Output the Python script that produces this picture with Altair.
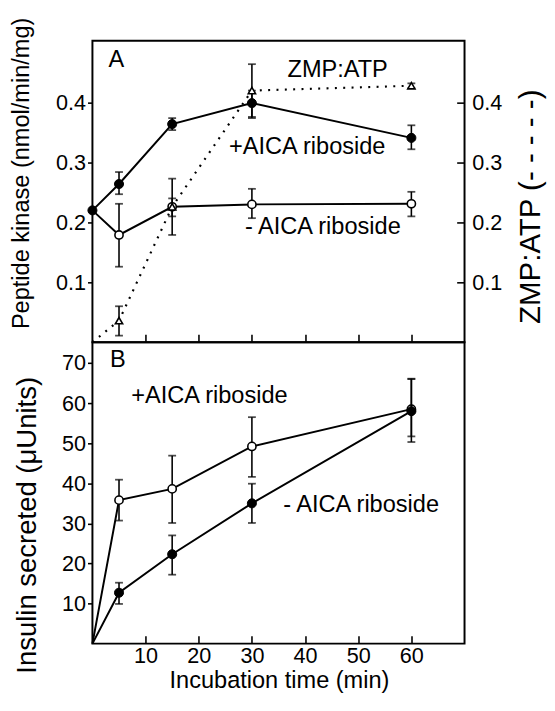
import altair as alt
import pandas as pd

FONT = "Liberation Sans"

# ---------------- Panel A: peptide kinase & ZMP:ATP ----------------
a_time = [0, 5, 15, 30, 60]
a_plus = [0.220, 0.264, 0.364, 0.399, 0.341]
a_plus_lo = [0.220, 0.247, 0.354, 0.374, 0.322]
a_plus_hi = [0.220, 0.284, 0.374, 0.420, 0.362]
a_minus = [0.220, 0.179, 0.226, 0.230, 0.231]
a_minus_lo = [0.220, 0.126, 0.210, 0.207, 0.210]
a_minus_hi = [0.220, 0.231, 0.240, 0.256, 0.251]
zmp_time = [0, 5, 15, 30, 60]
zmp = [0.0, 0.036, 0.226, 0.420, 0.428]
zmp_lo = [0.0, 0.011, 0.179, 0.376, 0.424]
zmp_hi = [0.0, 0.060, 0.273, 0.464, 0.432]

# ---------------- Panel B: insulin secreted ----------------
b_time = [0, 5, 15, 30, 60]
b_plus = [0, 35.8, 38.6, 49.2, 58.5]
b_plus_lo = [0, 30.7, 30.1, 41.6, 50.3]
b_plus_hi = [0, 40.9, 46.9, 56.5, 66.1]
b_minus = [0, 12.7, 22.3, 35.0, 58.0]
b_minus_lo = [0, 9.9, 17.2, 30.1, 51.7]
b_minus_hi = [0, 15.2, 27.0, 39.9, 66.0]

# ---------------- annotations ----------------
a_labels = ["A", "ZMP:ATP", "+AICA riboside", "- AICA riboside"]
a_label_x = [3.0, 36.7, 25.7, 28.7]
a_label_y = [0.459, 0.443, 0.314, 0.180]
b_labels = ["B", "+AICA riboside", "- AICA riboside"]
b_label_x = [3.3, 7.3, 35.9]
b_label_y = [69.1, 60.1, 32.8]

x_ticks = [10, 20, 30, 40, 50, 60]
a_ticks = [0.1, 0.2, 0.3, 0.4]
b_ticks = [10, 20, 30, 40, 50, 60, 70]

W, H = 379, 307
A_DOMAIN = [0, 0.503]
B_DOMAIN = [0, 75.2]


def frame(t, v, lo, hi):
    return pd.DataFrame({"t": t, "v": v, "lo": lo, "hi": hi})


axis_x_top = alt.Axis(values=x_ticks, labels=False, title=None, domain=False,
                      grid=False, tickSize=8, offset=-8)
axis_x_bottom = alt.Axis(values=x_ticks, domain=False, grid=False, tickSize=8,
                         offset=-8, labelBaseline="alphabetic", labelPadding=19.7,
                         title="Incubation time (min)", titleX=190, titleY=52.7,
                         titleBaseline="alphabetic", titleAlign="center")

axis_left_a = alt.Axis(values=a_ticks, format=".1f", domain=False, grid=False,
                       tickSize=5, labelPadding=2, titleX=-65, titleY=134.5,
                       titleAngle=270, titleBaseline="alphabetic", titleAlign="center")
axis_right_a = alt.Axis(orient="right", values=a_ticks, format=".1f", domain=False,
                        grid=False, tickSize=8, offset=-8, labelPadding=7.3,
                        titleX=84.5, titleY=168.5, titleAngle=270, titleFontSize=30,
                        titleBaseline="alphabetic", titleAlign="center")
axis_left_b = alt.Axis(values=b_ticks, domain=False, grid=False, tickSize=5,
                       labelPadding=2, titleX=-57.5, titleY=186, titleAngle=270,
                       titleFontSize=28, titleBaseline="alphabetic", titleAlign="center")

TITLE_A = "Peptide kinase (nmol/min/mg)"
TITLE_Z = "ZMP:ATP (- - - - -)"
TITLE_B = "Insulin secreted (\u03bcUnits)"


def xenc(axis):
    return alt.X("t:Q", scale=alt.Scale(domain=[0, 70], nice=False), axis=axis)


def make_series(df, xaxis, yfield_enc, style, dash=None, skip_first_marker=False):
    line_kw = dict(color="black", strokeWidth=2)
    if dash is not None:
        line_kw["strokeDash"] = dash
        line_kw["strokeWidth"] = 2.2
    line = alt.Chart(df).mark_line(**line_kw).encode(x=xenc(xaxis), y=yfield_enc("v"))
    err_src = alt.Chart(df).transform_filter("datum.hi - datum.lo > 0.0001")
    rule = err_src.mark_rule(color="black", strokeWidth=1.6).encode(
        x=xenc(xaxis), y=yfield_enc("lo"), y2="hi:Q")
    cap_lo = err_src.mark_tick(color="black", orient="horizontal", size=8,
                               thickness=1.8).encode(x=xenc(xaxis), y=yfield_enc("lo"))
    cap_hi = err_src.mark_tick(color="black", orient="horizontal", size=8,
                               thickness=1.8).encode(x=xenc(xaxis), y=yfield_enc("hi"))
    pts_src = alt.Chart(df)
    if skip_first_marker:
        pts_src = pts_src.transform_filter("datum.t > 0")
    if style == "filled":
        pts = pts_src.mark_point(shape="circle", filled=True, fill="black",
                                 stroke="black", strokeWidth=1, size=85, opacity=1)
    elif style == "open":
        pts = pts_src.mark_point(shape="circle", filled=True, fill="white",
                                 stroke="black", strokeWidth=1.6, size=70, opacity=1)
    else:
        pts = pts_src.mark_point(shape="triangle-up", filled=True, fill="white",
                                 stroke="black", strokeWidth=1.6, size=55, opacity=1)
    pts = pts.encode(x=xenc(xaxis), y=yfield_enc("v"))
    return [line, rule, cap_lo, cap_hi, pts]


def y_a(field):
    return alt.Y(f"{field}:Q", scale=alt.Scale(domain=A_DOMAIN, nice=False),
                 axis=axis_left_a, title=TITLE_A)


def y_z(field):
    return alt.Y(f"{field}:Q", scale=alt.Scale(domain=A_DOMAIN, nice=False),
                 axis=axis_right_a, title=TITLE_Z)


def y_b(field):
    return alt.Y(f"{field}:Q", scale=alt.Scale(domain=B_DOMAIN, nice=False),
                 axis=axis_left_b, title=TITLE_B)


# ---- panel A ----
df_a_minus = frame(a_time, a_minus, a_minus_lo, a_minus_hi)
df_a_plus = frame(a_time, a_plus, a_plus_lo, a_plus_hi)
df_zmp = frame(zmp_time, zmp, zmp_lo, zmp_hi)
df_a_text = pd.DataFrame({"t": a_label_x, "v": a_label_y, "label": a_labels})

a_text = alt.Chart(df_a_text).mark_text(align="left", baseline="alphabetic",
                                        font=FONT, fontSize=24, color="black").encode(
    x=xenc(axis_x_top), y=y_a("v"), text="label:N")

kin = alt.layer(
    *make_series(df_a_minus, axis_x_top, y_a, "open", skip_first_marker=True),
    *make_series(df_a_plus, axis_x_top, y_a, "filled"),
    a_text,
)
zmp_layer = alt.layer(
    *make_series(df_zmp, axis_x_top, y_z, "triangle", dash=[2, 6.5], skip_first_marker=True)
)
top = alt.layer(kin, zmp_layer).resolve_scale(y="independent").properties(width=W, height=H)

# ---- panel B ----
df_b_plus = frame(b_time, b_plus, b_plus_lo, b_plus_hi)
df_b_minus = frame(b_time, b_minus, b_minus_lo, b_minus_hi)
df_b_text = pd.DataFrame({"t": b_label_x, "v": b_label_y, "label": b_labels})

b_text = alt.Chart(df_b_text).mark_text(align="left", baseline="alphabetic",
                                        font=FONT, fontSize=24, color="black").encode(
    x=xenc(axis_x_bottom), y=y_b("v"), text="label:N")

bottom = alt.layer(
    *make_series(df_b_plus, axis_x_bottom, y_b, "open", skip_first_marker=True),
    *make_series(df_b_minus, axis_x_bottom, y_b, "filled", skip_first_marker=True),
    b_text,
).properties(width=W, height=H)

chart = alt.vconcat(top, bottom, spacing=0, bounds="flush").properties(
    padding={"left": 0, "top": 1, "right": 0, "bottom": 0},
    background="white",
).configure_view(
    stroke="black", strokeWidth=2
).configure_axis(
    labelFont=FONT, titleFont=FONT, labelFontSize=22, titleFontSize=24,
    labelColor="black", titleColor="black", tickColor="black", tickWidth=1.6,
    titleFontWeight="normal",
)

chart.save("out.html", embed_options={"renderer": "svg", "actions": False})
